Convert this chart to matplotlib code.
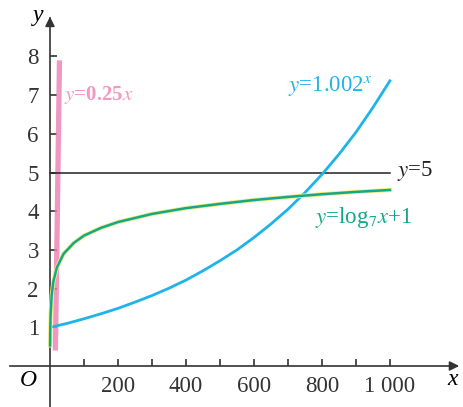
import matplotlib.pyplot as plt

# values
pink_x = [16, 28]
pink_y = [0.4, 7.9]

cyan_x = [6, 50, 100, 150, 200, 250, 300, 350, 400, 450, 500, 550, 600, 650, 700, 750, 800, 850, 900, 950, 1000]
cyan_y = [1.01, 1.10, 1.22, 1.35, 1.49, 1.65, 1.82, 2.01, 2.22, 2.46, 2.72, 3.00, 3.32, 3.67, 4.05, 4.48, 4.95, 5.47, 6.04, 6.68, 7.37]

green_x = [0.4, 1, 2, 5, 10, 20, 40, 70, 100, 150, 200, 300, 400, 500, 600, 700, 800, 900, 1000]
green_y = [0.53, 1.0, 1.36, 1.83, 2.18, 2.54, 2.90, 3.18, 3.37, 3.57, 3.72, 3.93, 4.08, 4.19, 4.29, 4.37, 4.44, 4.50, 4.55]

line5_x = [0, 1000]
line5_y = [5, 5]

x_ticks = [100, 200, 300, 400, 500, 600, 700, 800, 900, 1000]
x_labels = ['', '200', '', '400', '', '600', '', '800', '', '1 000']
y_ticks = [1, 2, 3, 4, 5, 6, 7, 8]

plt.rcParams['font.family'] = ['Liberation Serif', 'DejaVu Serif']
plt.rcParams['mathtext.fontset'] = 'stix'

fig = plt.figure(figsize=(4.64, 4.07), dpi=100)
ax = fig.add_axes([0, 0, 1, 1])
ax.set_xlim(-147, 1218)
ax.set_ylim(-1.06, 9.46)

pink = '#ee7fb2'
cyan = '#1eb4ea'
green = '#14a88a'

ax.plot(pink_x, pink_y, color=pink, lw=3.8, alpha=0.8, solid_capstyle='butt', zorder=2)
ax.plot(cyan_x, cyan_y, color=cyan, lw=2, zorder=3)
ax.plot(green_x, green_y, color='#f2ec7a', lw=3, zorder=3)
ax.plot(green_x, green_y, color=green, lw=1.8, zorder=4)
ax.plot(line5_x, line5_y, color='#222222', lw=1.1, zorder=2)

# axes through the origin
for s in ['top', 'right']:
    ax.spines[s].set_visible(False)
ax.spines['left'].set_position(('data', 0))
ax.spines['bottom'].set_position(('data', 0))
ax.spines['left'].set_bounds(-1.06, 9.0)
ax.spines['bottom'].set_bounds(-118, 1190)
ax.spines['left'].set_linewidth(1.2)
ax.spines['bottom'].set_linewidth(1.2)
ax.spines['left'].set_color('#333333')
ax.spines['bottom'].set_color('#333333')

ax.set_xticks(x_ticks)
ax.set_xticklabels(x_labels)
ax.set_yticks(y_ticks)
ax.tick_params(axis='both', direction='in', length=5, width=1.2, colors='#333333', labelsize=16.5)
ax.tick_params(axis='x', pad=7)
ax.tick_params(axis='y', pad=8)

# arrows
ax.annotate('', xy=(1212, 0), xytext=(1180, 0),
            arrowprops=dict(arrowstyle='-|>', color='#333333', lw=1.2, mutation_scale=14))
ax.annotate('', xy=(0, 9.1), xytext=(0, 8.8),
            arrowprops=dict(arrowstyle='-|>', color='#333333', lw=1.2, mutation_scale=14))

ax.text(-35, 9.05, 'y', fontsize=17, style='italic', ha='center', va='center')
ax.text(1185, -0.35, 'x', fontsize=17, style='italic', ha='center', va='center')
ax.text(-65, -0.38, 'O', fontsize=17, style='italic', ha='center', va='center')

ax.text(42, 7.0, r'$y$=0.25$x$', color=pink, alpha=0.8, fontsize=15, fontweight='bold', ha='left', va='center')
ax.text(700, 7.25, r'$y$=1.002$^{x}$', color=cyan, fontsize=16.5, ha='left', va='center')
ax.text(1020, 5.05, r'$y$=5', color='#222222', fontsize=16.5, ha='left', va='center')
ax.text(780, 3.85, r'$y$=log$_7$$x$+1', color=green, fontsize=16.5, ha='left', va='center')

fig.savefig('out.png', dpi=100)
